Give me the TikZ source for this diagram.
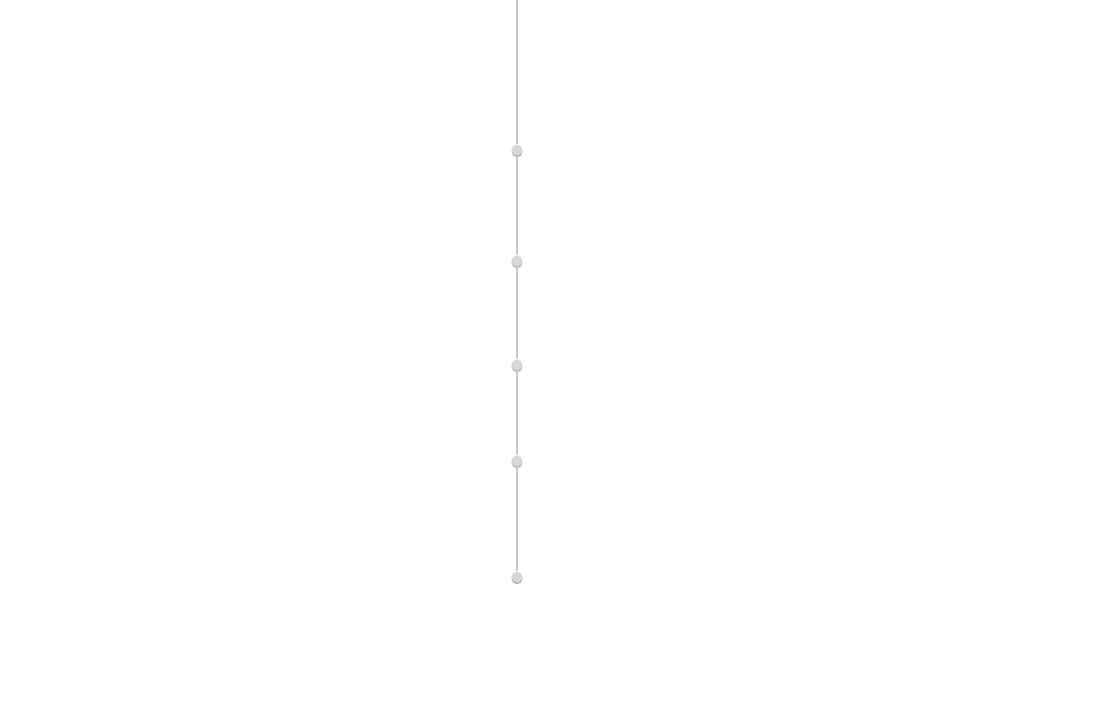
\documentclass[tikz,border=0pt]{standalone}
\usetikzlibrary{shadows}
\begin{document}
\begin{tikzpicture}[x=1pt,y=-1pt,
  dot/.style={circle,fill={rgb,255:red,216;green,216;blue,216},minimum size=11pt,inner sep=0pt,
    drop shadow={shadow xshift=0pt,shadow yshift=-1.8pt,opacity=0.7,fill={rgb,255:red,150;green,150;blue,150}}},
  link/.style={draw={rgb,255:red,200;green,200;blue,200},line width=1.2pt}]
\useasboundingbox (0,0) rectangle (1103,712);
\fill[white] (0,0) rectangle (1103,712);
\coordinate (top) at (517,0);
\node[dot] (d1) at (517,150) {};
\node[dot] (d2) at (517,261) {};
\node[dot] (d3) at (517,365) {};
\node[dot] (d4) at (517,461) {};
\node[dot] (d5) at (517,577) {};
\path[link] (top) -- (d1) (d1) -- (d2) (d2) -- (d3) (d3) -- (d4) (d4) -- (d5);
\end{tikzpicture}
\end{document}
